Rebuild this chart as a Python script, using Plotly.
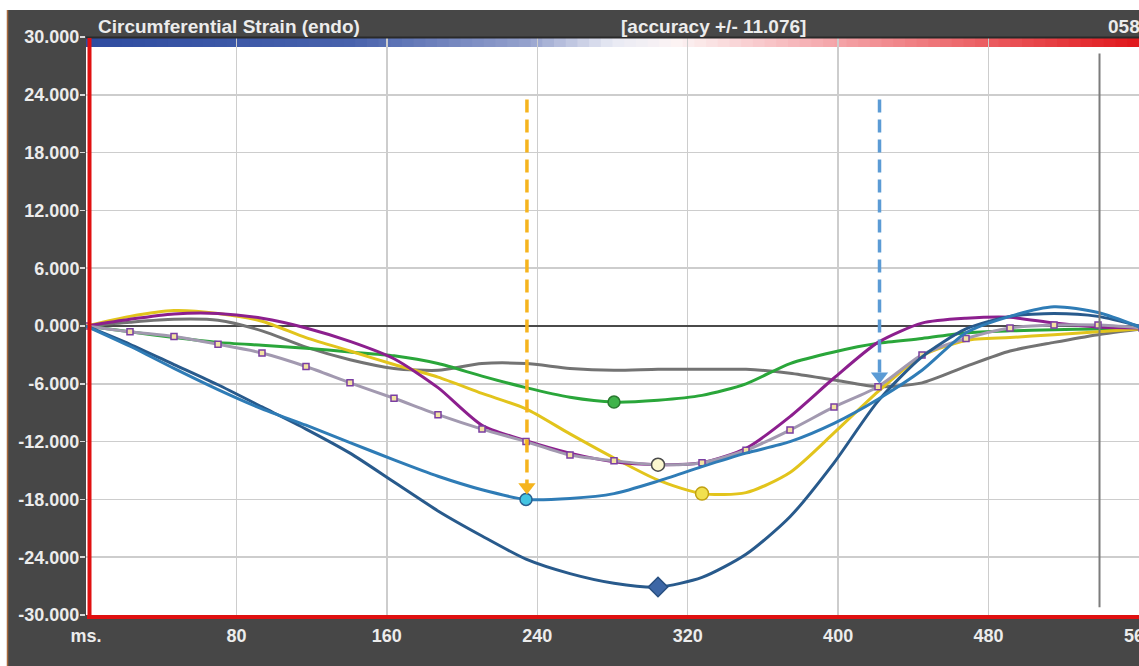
import plotly.graph_objects as go

# ---------------- data ----------------
frame_ms = [0, 23.4, 46.8, 70.2, 93.6, 117.0, 140.4, 163.8, 187.2, 210.6, 234.0,
            257.4, 280.8, 304.2, 327.6, 351.0, 374.4, 397.8, 421.2, 444.6, 468.0,
            491.4, 514.8, 538.2, 561.6]

gray_seg = [0, 0.4, 0.7, 0.6, -0.5, -2.2, -3.5, -4.4, -4.6, -3.9, -3.9, -4.4, -4.6,
            -4.5, -4.5, -4.5, -4.9, -5.6, -6.3, -5.9, -4.2, -2.6, -1.7, -0.9, -0.3]
green_seg = [0, -0.6, -1.2, -1.7, -2.0, -2.3, -2.7, -3.1, -3.9, -5.2, -6.4, -7.4, -7.9,
             -7.7, -7.2, -6.0, -3.9, -2.7, -1.8, -1.3, -0.7, -0.5, -0.4, -0.3, -0.2]
yellow_seg = [0, 1.0, 1.6, 1.3, 0.5, -1.2, -2.6, -4.0, -5.3, -7.0, -8.6, -11.2, -13.7,
              -16.0, -17.4, -17.3, -15.2, -11.1, -6.8, -3.1, -1.5, -1.2, -0.9, -0.6, -0.3]
purple_seg = [0, 0.7, 1.25, 1.3, 0.8, -0.2, -1.6, -3.4, -6.4, -10.3, -11.9, -13.2, -14.1,
              -14.4, -14.2, -12.7, -9.4, -5.4, -1.7, 0.3, 0.8, 0.9, 0.3, -0.1, -0.2]
lavender_seg = [0, -0.6, -1.1, -1.9, -2.8, -4.2, -5.9, -7.5, -9.2, -10.7, -12.0, -13.4,
                -14.0, -14.4, -14.2, -12.9, -10.8, -8.4, -6.3, -3.0, -1.3, -0.2, 0.1, 0.1, -0.2]
lightblue_seg = [0, -2.1, -4.4, -6.6, -8.6, -10.3, -12.1, -13.9, -15.6, -17.0, -18.0,
                 -17.9, -17.4, -16.1, -14.6, -13.2, -12.0, -10.1, -7.6, -4.6, -0.7, 1.0,
                 2.0, 1.4, -0.2]
darkblue_seg = [0, -1.9, -4.0, -6.1, -8.4, -10.7, -13.2, -16.2, -19.2, -21.8, -24.2,
                -25.7, -26.7, -27.1, -26.1, -23.7, -19.8, -14.2, -7.8, -3.2, -0.3, 1.0,
                1.3, 1.0, -0.1]

x_tickvals = [0, 80, 160, 240, 320, 400, 480, 560]
x_ticktext = ["ms.", "80", "160", "240", "320", "400", "480", "560"]
y_tickvals = [30, 24, 18, 12, 6, 0, -6, -12, -18, -24, -30]
y_ticktext = ["30.000", "24.000", "18.000", "12.000", "6.000", "0.000", "-6.000",
              "-12.000", "-18.000", "-24.000", "-30.000"]

title_text = "Circumferential Strain (endo)"
accuracy_text = "[accuracy +/- 11.076]"
corner_text = "058"

es_marker_ms = 539          # vertical time marker
es_marker_span = [28.3, -29.2]
orange_arrow = dict(ms=234.5, top=23.5, tip=-17.5)
blue_arrow = dict(ms=422.0, top=23.5, tip=-6.0)

# ---------------- layout geometry ----------------
W, H = 1139, 666
L, R, T, B = 86, 0, 37, 51
PW, PH = W - L - R, H - T - B


def px_x(px):
    return (px - L) / PW


def px_y(py):
    return (H - B - py) / PH


FONT = "Liberation Sans, Arial, sans-serif"
TXT = "#ececec"

fig = go.Figure()


def line(xs, ys, color, width=3):
    fig.add_trace(go.Scatter(x=xs, y=ys, mode="lines",
                             line=dict(color=color, width=width, shape="spline", smoothing=0.7),
                             hoverinfo="skip", showlegend=False))


def argmin(vals):
    return min(range(len(vals)), key=lambda i: vals[i])


line(frame_ms, gray_seg, "#737373")
line(frame_ms, green_seg, "#2aa63a")
line(frame_ms, yellow_seg, "#e2c41c")
line(frame_ms, purple_seg, "#8c1f8e")
fig.add_trace(go.Scatter(x=frame_ms, y=lavender_seg, mode="lines+markers",
                         line=dict(color="#a299b0", width=3, shape="spline", smoothing=0.7),
                         marker=dict(symbol="square", size=6, color="#f3e3a2",
                                     line=dict(color="#7a3ea2", width=1.5)),
                         hoverinfo="skip", showlegend=False))
line(frame_ms, darkblue_seg, "#285a8c")
line(frame_ms, lightblue_seg, "#2f7cb6")

# peak markers (at each curve's minimum)
peaks = [
    (green_seg, "circle", 12, "#3fb34a", "#2a7a30"),
    (lavender_seg, "circle", 13, "#fbf7cf", "#4a4a4a"),
    (yellow_seg, "circle", 13, "#f1e04e", "#c0a010"),
    (lightblue_seg, "circle", 12, "#43c4e2", "#2a6090"),
    (darkblue_seg, "diamond", 15, "#3d67a6", "#284f80"),
]
for vals, sym, size, fill, edge in peaks:
    i = argmin(vals)
    fig.add_trace(go.Scatter(x=[frame_ms[i]], y=[vals[i]], mode="markers",
                             marker=dict(symbol=sym, size=size, color=fill,
                                         line=dict(color=edge, width=1.5)),
                             hoverinfo="skip", showlegend=False))

# dashed arrows
px_per_unit = PH / 60.0
HEAD = 15
for arr, col in [(orange_arrow, "#f5b41e"), (blue_arrow, "#5b9bd5")]:
    r = HEAD / 2.0
    fig.add_trace(go.Scatter(x=[arr["ms"], arr["ms"]],
                             y=[arr["top"], arr["tip"] + 1.4 * r / px_per_unit],
                             mode="lines", line=dict(color=col, width=3.5, dash="13px,7px"),
                             hoverinfo="skip", showlegend=False))
    fig.add_trace(go.Scatter(x=[arr["ms"]], y=[arr["tip"] + r / px_per_unit], mode="markers",
                             marker=dict(symbol="triangle-down", size=HEAD, color=col,
                                         line=dict(width=0)),
                             hoverinfo="skip", showlegend=False))

shapes = []
# white page edge strips
shapes.append(dict(type="rect", xref="paper", yref="paper", x0=px_x(-5), x1=px_x(W + 5),
                   y0=px_y(10), y1=px_y(-5), fillcolor="white", line=dict(width=0), layer="below"))
shapes.append(dict(type="rect", xref="paper", yref="paper", x0=px_x(-5), x1=px_x(7),
                   y0=px_y(H + 5), y1=px_y(-5), fillcolor="white", line=dict(width=0), layer="below"))
shapes.append(dict(type="line", xref="paper", yref="paper", x0=px_x(7.5), x1=px_x(7.5),
                   y0=px_y(H), y1=px_y(10), line=dict(color="#a86a3c", width=1.5), layer="below"))

# gradient colour bar along top of plot
stops = [(0.0, (46, 76, 160)), (0.25, (72, 98, 172)), (0.42, (150, 162, 205)),
         (0.5, (232, 234, 244)), (0.56, (252, 244, 244)), (0.68, (246, 180, 184)),
         (0.84, (236, 100, 104)), (1.0, (224, 22, 26))]


def interp(f):
    for (f0, c0), (f1, c1) in zip(stops[:-1], stops[1:]):
        if f0 <= f <= f1:
            t = (f - f0) / (f1 - f0)
            return "rgb(%d,%d,%d)" % tuple(round(a + (b - a) * t) for a, b in zip(c0, c1))
    return "rgb(%d,%d,%d)" % stops[-1][1]


N = 90
for k in range(N):
    f0, f1 = k / N, (k + 1) / N
    shapes.append(dict(type="rect", xref="paper", yref="paper", x0=f0, x1=f1 + 0.002,
                       y0=px_y(47), y1=px_y(38), fillcolor=interp((f0 + f1) / 2),
                       line=dict(width=0), layer="below"))

# top dark border, red left & bottom borders
shapes.append(dict(type="line", xref="paper", yref="paper", x0=0, x1=1, y0=px_y(37.5), y1=px_y(37.5),
                   line=dict(color="#2a2a2a", width=2), layer="above"))
shapes.append(dict(type="line", xref="paper", yref="paper", x0=px_x(89.5), x1=px_x(89.5),
                   y0=px_y(619), y1=px_y(38), line=dict(color="#e01010", width=4), layer="above"))
shapes.append(dict(type="line", xref="paper", yref="paper", x0=px_x(87), x1=1, y0=px_y(617),
                   y1=px_y(617), line=dict(color="#e01010", width=4), layer="above"))
# vertical time marker
shapes.append(dict(type="line", xref="x", yref="y", x0=es_marker_ms, x1=es_marker_ms,
                   y0=es_marker_span[0], y1=es_marker_span[1],
                   line=dict(color="#7c7c7c", width=2), layer="above"))

annotations = [
    dict(text=title_text, xref="paper", yref="paper", x=px_x(96), y=px_y(27),
         xanchor="left", yanchor="middle", showarrow=False,
         font=dict(family=FONT, size=19, color=TXT, weight="bold")),
    dict(text=accuracy_text, xref="paper", yref="paper", x=px_x(619), y=px_y(27),
         xanchor="left", yanchor="middle", showarrow=False,
         font=dict(family=FONT, size=19, color=TXT, weight="bold")),
    dict(text=corner_text, xref="paper", yref="paper", x=px_x(1106), y=px_y(27),
         xanchor="left", yanchor="middle", showarrow=False,
         font=dict(family=FONT, size=19, color=TXT, weight="bold")),
]

fig.update_layout(
    width=W, height=H,
    margin=dict(l=L, r=R, t=T, b=B, pad=0),
    paper_bgcolor="#474747", plot_bgcolor="#ffffff",
    shapes=shapes, annotations=annotations, showlegend=False,
    hovermode=False,
    xaxis=dict(range=[0, 560], tickvals=x_tickvals, ticktext=x_ticktext,
               showgrid=True, gridcolor="#cdcdcd", gridwidth=1.5,
               zeroline=False, showline=False,
               ticks="outside", ticklen=4, tickcolor="rgba(0,0,0,0)",
               ticklabeloverflow="allow", automargin=False,
               tickfont=dict(family=FONT, size=18, color=TXT, weight="bold")),
    yaxis=dict(range=[-30, 30], tickvals=y_tickvals, ticktext=y_ticktext,
               showgrid=True, gridcolor="#cdcdcd", gridwidth=1.5,
               zeroline=True, zerolinecolor="#4a4a4a", zerolinewidth=2,
               showline=False, ticks="outside", ticklen=5, tickcolor="#d8d8d8",
               tickwidth=1.5, automargin=False, ticklabelstandoff=-3,
               tickfont=dict(family=FONT, size=18, color=TXT, weight="bold")),
)

fig.write_html("out.html", config={"displayModeBar": False, "staticPlot": True})
